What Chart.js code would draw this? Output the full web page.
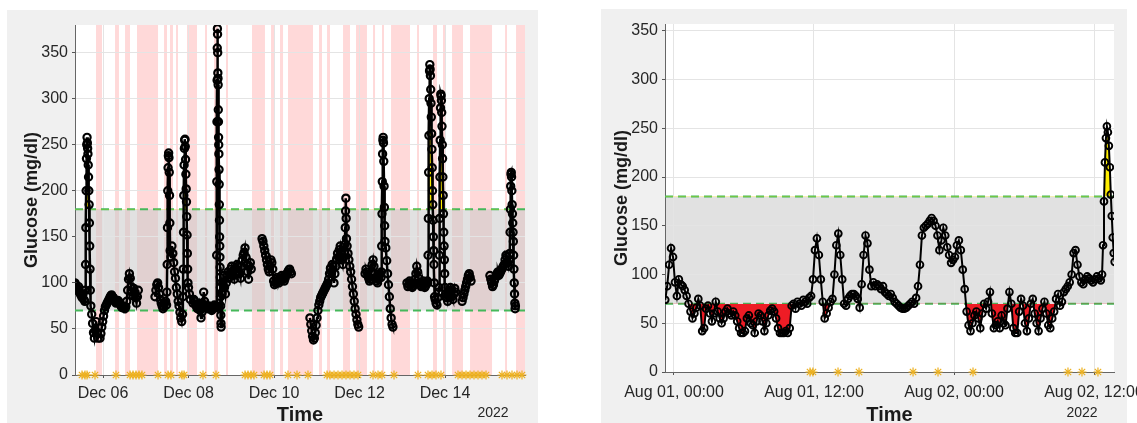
<!DOCTYPE html>
<html>
<head>
<meta charset="utf-8">
<title>Glucose traces</title>
<script src="https://cdn.jsdelivr.net/npm/chart.js@4.4.0/dist/chart.umd.min.js"></script>
<style>
  html, body { margin: 0; padding: 0; background: #fff; width: 1137px; height: 423px; overflow: hidden; }
  .fig { position: absolute; background: #f0f0f0; }
  #figL { left: 7px; top: 10px; width: 531px; height: 413px; }
  #figR { left: 601px; top: 9px; width: 526px; height: 414px; }
  canvas { position: absolute; }
  #cL { left: 7px; top: 10px; }
  #cR { left: 601px; top: 9px; }
</style>
</head>
<body>
<div class="fig" id="figL"></div>
<div class="fig" id="figR"></div>
<canvas id="cL" width="531" height="413"></canvas>
<canvas id="cR" width="536" height="414"></canvas>
<script>
// ---------- shared axis settings ----------
const glucoseTicks = [0, 50, 100, 150, 200, 250, 300, 350];
const targetLow = 70;
const targetHigh = 180;

// ---------- December 2022 (x = day of month, 6.0 = Dec 06 00:00) ----------
const decTickDays = [6, 8, 10, 12, 14];
const decTickLabels = ['Dec 06', 'Dec 08', 'Dec 10', 'Dec 12', 'Dec 14'];

const decRun01 = [100, 98, 95, 92, 96, 90, 88, 86, 84, 88, 82, 80];
const decRun02 = [92, 120, 160, 200, 235, 250, 258, 252, 246, 240, 228, 215, 200, 185, 165, 140, 115, 92];
const decRun03 = [75, 66, 56, 46, 40, 48, 58, 46, 40];
const decRun04 = [40, 45, 52, 58, 64, 70, 74, 76, 78, 80, 82, 84, 86, 87, 85, 84, 82, 80, 78, 79, 81, 80, 78, 76, 74, 73, 75, 74, 72, 74];
const decRun05 = [80, 92, 104, 110, 105, 96, 90, 86, 94, 90, 84, 78, 85, 92];
const decRun06 = [85, 92, 98, 100, 95, 88, 82, 78, 75, 72, 74, 78, 80, 76];
const decRun07 = [90, 120, 160, 200, 225, 238, 241, 236, 220, 195, 165, 135];
const decRun08 = [128, 140, 132, 122, 112, 105, 95, 88, 80, 75, 68, 62, 58, 66];
const decRun09 = [85, 115, 155, 195, 228, 246, 255, 256, 248, 234, 218, 202, 188, 172, 152, 132, 115, 100];
const decRun10 = [95, 88, 82];
const decRun11 = [78, 82, 80, 76, 74, 72, 75, 78, 70, 62, 68, 74, 90, 80, 76, 74, 72, 73, 75, 74, 72, 70, 72, 74, 76, 74, 73];
const decRun12 = [75, 130, 210, 275, 320, 355, 376, 370, 350, 328, 322, 315, 288, 275, 258, 250, 240, 223, 207, 185, 168, 150, 140, 128, 117, 106, 95, 85, 75, 65, 56, 52];
const decRun13 = [88, 100, 108, 95, 88, 100, 108, 112, 105, 110, 115, 118, 112, 108, 104, 110, 115, 120, 118, 112, 110, 105, 118, 125, 130, 133, 138, 128, 120, 112, 104, 118, 122, 115];
const decRun14 = [148, 145, 140, 135, 130, 125, 120, 115, 112, 118, 125, 122, 115];
const decRun15 = [102, 98, 100, 104, 106, 102, 100, 103, 105, 108, 106, 104, 102, 105, 108, 110, 112, 114, 115, 112, 110];
const decRun16 = [62, 55, 48, 42, 38, 40, 46, 54, 62, 70, 76, 80, 84, 86, 88, 90, 92, 94, 96, 98, 100, 104, 110, 116, 112, 120, 118, 100, 110, 118, 126, 132, 128, 136, 140, 132, 125, 120, 128, 134];
const decRun17 = [142, 160, 178, 192, 170, 148];
const decRun18 = [140, 132, 125, 118, 112, 104, 96, 88, 80, 72, 66, 60, 55, 52];
const decRun19 = [110, 115, 112, 108, 105, 102, 104, 112, 120, 125, 118, 110, 105, 102, 100, 104, 108, 110, 106];
const decRun20 = [112, 140, 175, 210, 240, 255, 258, 252, 232, 205, 182, 162, 145];
const decRun21 = [138, 124, 110, 98, 85, 72, 62, 55, 52];
const decRun22 = [100, 96, 98, 102, 100, 98, 95, 97, 100, 104, 110, 118, 112, 105, 100, 98, 96, 100, 102, 98, 95, 97, 100, 102];
const decRun23 = [100, 130, 170, 220, 260, 300, 330, 337, 332, 325, 310, 295, 280, 262, 245, 225, 200, 185, 168, 150, 135, 120, 100, 85];
const decRun24 = [82, 78, 76, 84, 90];
const decRun25 = [95, 130, 170, 215, 255, 290, 305, 303, 298, 285, 270, 250, 235, 215, 195, 175, 155, 140, 125, 110, 95, 85];
const decRun26 = [88, 84, 80, 86, 92, 95, 90, 85, 82, 88, 94, 90];
const decRun27 = [80, 84, 88, 92, 96, 100, 104, 108, 110, 106, 102];
const decRun28 = [108, 104, 100, 96, 98, 102, 105, 108, 110, 112, 108, 110, 112, 114, 116, 118, 120, 125, 130, 128, 122, 118, 125];
const decRun29 = [132, 155, 180, 205, 218, 220, 215, 200, 185, 175, 165, 155, 145, 130, 115, 100, 88, 78, 72, 75];

const decRuns = [decRun01, decRun02, decRun03, decRun04, decRun05, decRun06, decRun07, decRun08, decRun09, decRun10,
                 decRun11, decRun12, decRun13, decRun14, decRun15, decRun16, decRun17, decRun18, decRun19, decRun20,
                 decRun21, decRun22, decRun23, decRun24, decRun25, decRun26, decRun27, decRun28, decRun29];
const decRunStart = [5.345, 5.585, 5.715, 5.93, 6.555, 7.216, 7.494, 7.591, 7.869, 8.0,
                     8.105, 8.655, 8.78, 9.72, 9.99, 10.84, 11.66, 11.71, 12.13, 12.512,
                     12.615, 13.11, 13.596, 13.77, 13.86, 14.02, 14.40, 15.05, 15.515];
const decRunStepMin = [30, 10, 30, 30, 30, 30, 10, 30, 10, 30,
                       30, 5, 30, 30, 30, 30, 10, 30, 30, 10,
                       30, 30, 10, 30, 10, 30, 30, 30, 10];

// logged events (days)
const decEvents = [5.509, 5.579, 5.626, 5.813, 6.304, 6.632, 6.702, 6.772, 6.842, 6.912,
                   7.287, 7.520, 7.591, 7.848, 7.895, 8.339, 8.643, 9.322, 9.392, 9.462,
                   9.532, 9.766, 9.836, 9.906, 10.327, 10.538, 10.795, 11.240, 11.310, 11.404,
                   11.497, 11.591, 11.684, 11.778, 11.871, 11.965, 12.316, 12.433, 12.526, 12.807,
                   13.368, 13.602, 13.696, 13.789, 13.906, 14.304, 14.398, 14.491, 14.585, 14.678,
                   14.772, 14.865, 14.959, 15.333, 15.450, 15.567, 15.684, 15.801];

// shaded periods (days)
const decPeriodStart = [5.836, 6.281, 6.515, 6.795, 7.427, 7.567, 7.708, 7.965, 8.386, 8.596,
                        8.877, 9.485, 9.930, 10.140, 10.327, 11.053, 11.240, 11.614, 11.918, 12.316,
                        12.526, 12.737, 13.345, 13.719, 13.953, 14.164, 14.585, 15.404, 15.661];
const decPeriodEnd   = [5.977, 6.374, 6.632, 7.287, 7.497, 7.637, 7.754, 8.199, 8.433, 8.690,
                        8.924, 9.789, 10.023, 10.211, 10.912, 11.123, 11.310, 11.778, 12.175, 12.363,
                        12.573, 13.181, 13.392, 13.813, 14.023, 14.421, 15.100, 15.450, 15.871];

// ---------- August 2022 (x = hours since Aug 01 00:00) ----------
const augTickHours = [0, 12, 24, 36];
const augTickLabels = ['Aug 01, 00:00', 'Aug 01, 12:00', 'Aug 02, 00:00', 'Aug 02, 12:00'];

const augBlock1 = [74, 88, 110, 127, 118, 92, 78, 95, 90, 88, 84, 78, 70, 62, 55, 60, 66, 75, 68, 42,
                   45, 65, 68, 60, 52, 60, 72, 62, 55, 50, 55, 62, 65, 60, 58, 62, 58, 52, 45, 40];
const augBlock2 = [40, 42, 55, 58, 50, 48, 40, 52, 60, 58, 52, 42, 50, 58, 63, 65, 62, 55, 45, 40,
                   40, 40, 42, 40, 45, 68, 70, 65, 72, 70, 68, 74, 72, 70, 76, 78, 95, 125, 137, 120];
const augBlock3 = [95, 72, 55, 60, 66, 72, 75, 100, 130, 142, 120, 95, 70, 68, 75, 78, 80, 80, 78, 75,
                   66, 90, 120, 140, 132, 105, 88, 92, 88, 90, 88, 85, 88, 82, 80, 78, 80, 76, 72, 70];
const augBlock4 = [68, 66, 65, 65, 66, 68, 70, 72, 70, 76, 88, 110, 140, 148, 150, 152, 155, 158, 155, 150,
                   140, 125, 135, 148, 140, 128, 120, 112, 115, 118, 130, 135, 125, 105, 85, 62, 48, 42, 50, 58];
const augBlock5 = [62, 55, 45, 60, 70, 65, 72, 82, 60, 45, 48, 52, 45, 58, 50, 48, 65, 82, 70, 45,
                   40, 40, 62, 75, 68, 50, 42, 55, 70, 75, 60, 50, 42, 55, 65, 72, 60, 48, 45, 55];
const augBlock6 = [62, 75, 80, 68, 72, 82, 85, 88, 92, 100, 122, 125, 110, 98, 92, 90, 95, 98, 96, 94,
                   92, 95, 98, 96, 94];
const augBlock7 = [100, 130, 175, 215, 240, 252, 246, 232, 210, 182, 160, 138, 122, 113];

const augBlocks = [augBlock1, augBlock2, augBlock3, augBlock4, augBlock5, augBlock6, augBlock7];
const augBlockStart = [-0.75, 5.9167, 12.5833, 19.25, 25.9167, 32.5833, 36.69];
const augBlockStepMin = [10, 10, 10, 10, 10, 10, 5];

const augEvents = [11.66, 11.91, 14.06, 15.86, 20.49, 22.63, 25.63, 33.77, 34.97, 36.34];

// ---------- helpers ----------
const FONT = '"Liberation Sans", Arial, Helvetica, sans-serif';

function buildSeries(runs, starts, stepsMin, unitsPerMin, gapLimit) {
  const pts = [];
  let prevEnd = null;
  runs.forEach((vals, k) => {
    const t0 = starts[k];
    const dt = stepsMin[k] * unitsPerMin;
    if (prevEnd !== null && t0 - prevEnd > gapLimit) pts.push({ x: (prevEnd + t0) / 2, y: null });
    vals.forEach((v, i) => pts.push({ x: t0 + i * dt, y: v }));
    prevEnd = t0 + (vals.length - 1) * dt;
  });
  return pts;
}

// plot background, shaded periods and target band, plus all axis text
const panelDecor = {
  id: 'panelDecor',
  beforeDraw(chart, args, o) {
    const { ctx, chartArea: a, scales: { x, y } } = chart;
    ctx.save();
    ctx.fillStyle = '#ffffff';
    ctx.fillRect(a.left, a.top, a.width, a.height);
    (o.periods || []).forEach(([s, e]) => {
      const x0 = Math.max(a.left, x.getPixelForValue(s));
      const x1 = Math.min(a.right, x.getPixelForValue(e));
      if (x1 > x0) {
        ctx.fillStyle = 'rgba(255,0,0,0.15)';
        ctx.fillRect(x0, a.top, x1 - x0, a.height);
      }
    });
    const yHi = y.getPixelForValue(targetHigh);
    const yLo = y.getPixelForValue(targetLow);
    ctx.fillStyle = 'rgba(200,200,200,0.55)';
    ctx.fillRect(a.left, yHi, a.width, yLo - yHi);
    ctx.restore();
  },
  afterDraw(chart, args, o) {
    const { ctx, chartArea: a, scales: { x } } = chart;
    ctx.save();
    ctx.textAlign = 'center';
    ctx.textBaseline = 'alphabetic';
    ctx.fillStyle = '#262626';
    ctx.font = '16px ' + FONT;
    o.tickValues.forEach((v, i) => {
      ctx.fillText(o.tickLabels[i], x.getPixelForValue(v), a.bottom + o.tickBaseline);
    });
    ctx.font = '14px ' + FONT;
    ctx.fillText('2022', a.right - 32, a.bottom + o.yearBaseline);
    ctx.fillStyle = '#1a1a1a';
    ctx.font = 'bold 20px ' + FONT;
    ctx.fillText('Time', (a.left + a.right) / 2, a.bottom + o.titleBaseline);
    ctx.translate(a.left - 38, (a.top + a.bottom) / 2);
    ctx.rotate(-Math.PI / 2);
    ctx.font = 'bold 18px ' + FONT;
    ctx.fillText('Glucose (mg/dl)', 0, 0);
    ctx.restore();
  }
};

function makePanel(canvas, cfg) {
  const series = cfg.series;
  const limitLine = (v) => [{ x: cfg.xMin, y: v }, { x: cfg.xMax, y: v }];
  const datasets = [
    {
      label: 'events', data: cfg.events.map(t => ({ x: t, y: 0 })),
      showLine: false, pointStyle: 'star', pointRadius: 4.5, pointBorderWidth: 1.2,
      pointBorderColor: '#EDB120', pointBackgroundColor: '#EDB120', clip: false, order: 0
    },
    {
      label: 'glucose', data: series, borderColor: '#000', borderWidth: cfg.lineWidth, spanGaps: false,
      pointStyle: 'circle', pointRadius: cfg.markerRadius, pointBorderWidth: cfg.markerEdge, pointBorderColor: '#000',
      pointBackgroundColor: 'rgba(0,0,0,0)', tension: 0, fill: false, order: 1
    },
    {
      label: 'high', data: series, borderWidth: 0, pointRadius: 0, spanGaps: false,
      fill: { target: { value: targetHigh }, above: '#ffee00', below: 'rgba(0,0,0,0)' }, order: 2
    },
    {
      label: 'upper', data: limitLine(targetHigh), borderColor: '#45b85a', borderWidth: 2,
      borderDash: [8, 5], pointRadius: 0, fill: false, order: 4
    },
    {
      label: 'lower', data: limitLine(targetLow), borderColor: '#45b85a', borderWidth: 2,
      borderDash: [8, 5], pointRadius: 0, fill: false, order: 4
    }
  ];
  if (cfg.lowFill) {
    datasets.push({
      label: 'low', data: series, borderWidth: 0, pointRadius: 0, spanGaps: false,
      fill: { target: { value: targetLow }, above: 'rgba(0,0,0,0)', below: '#ee1c25' }, order: 3
    });
  }
  return new Chart(canvas, {
    type: 'line',
    data: { datasets },
    options: {
      responsive: false,
      animation: false,
      devicePixelRatio: 1,
      layout: { padding: { left: 0, top: 15, right: cfg.padRight, bottom: 0 } },
      plugins: {
        legend: { display: false },
        tooltip: { enabled: false },
        panelDecor: {
          periods: cfg.periods, tickValues: cfg.tickValues, tickLabels: cfg.tickLabels,
          tickBaseline: cfg.tickBaseline, yearBaseline: cfg.yearBaseline, titleBaseline: cfg.titleBaseline
        }
      },
      scales: {
        x: {
          type: 'linear', min: cfg.xMin, max: cfg.xMax,
          afterBuildTicks: s => { s.ticks = cfg.tickValues.map(v => ({ value: v })); },
          afterFit: s => { s.height = cfg.xAxisHeight; },
          ticks: { display: false },
          grid: { color: '#e4e4e4', lineWidth: 1, drawTicks: true, tickLength: 3, tickColor: '#555' },
          border: { display: true, color: '#666', width: 1 }
        },
        y: {
          type: 'linear', min: 0, max: cfg.yMax,
          afterBuildTicks: s => { s.ticks = glucoseTicks.map(v => ({ value: v })); },
          afterFit: s => { s.width = cfg.yAxisWidth; },
          ticks: { padding: 4, color: '#262626', font: { family: FONT, size: 16, lineHeight: 1 }, callback: v => String(v) },
          grid: { color: '#e4e4e4', lineWidth: 1, drawTicks: true, tickLength: 3, tickColor: '#555' },
          border: { display: true, color: '#666', width: 1 }
        }
      }
    },
    plugins: [panelDecor]
  });
}

// ---------- left: December trace ----------
makePanel(document.getElementById('cL'), {
  series: buildSeries(decRuns, decRunStart, decRunStepMin, 1 / 1440, 1 / 24),
  events: decEvents,
  periods: decPeriodStart.map((s, i) => [s, decPeriodEnd[i]]),
  xMin: 5.345, xMax: 15.871, yMax: 380,
  tickValues: decTickDays, tickLabels: decTickLabels,
  yAxisWidth: 68, xAxisHeight: 48, padRight: 13,
  tickBaseline: 23, yearBaseline: 41.7, titleBaseline: 46,
  lineWidth: 2.5, markerRadius: 3.6, markerEdge: 2.2,
  lowFill: false
});

// ---------- right: August trace ----------
makePanel(document.getElementById('cR'), {
  series: buildSeries(augBlocks, augBlockStart, augBlockStepMin, 1 / 60, 1),
  events: augEvents,
  periods: [],
  xMin: -0.771, xMax: 37.714, yMax: 357,
  tickValues: augTickHours, tickLabels: augTickLabels,
  yAxisWidth: 64, xAxisHeight: 51, padRight: 23,
  tickBaseline: 24.5, yearBaseline: 44.7, titleBaseline: 49,
  lineWidth: 2, markerRadius: 3.4, markerEdge: 1.9,
  lowFill: true
});
</script>
</body>
</html>
